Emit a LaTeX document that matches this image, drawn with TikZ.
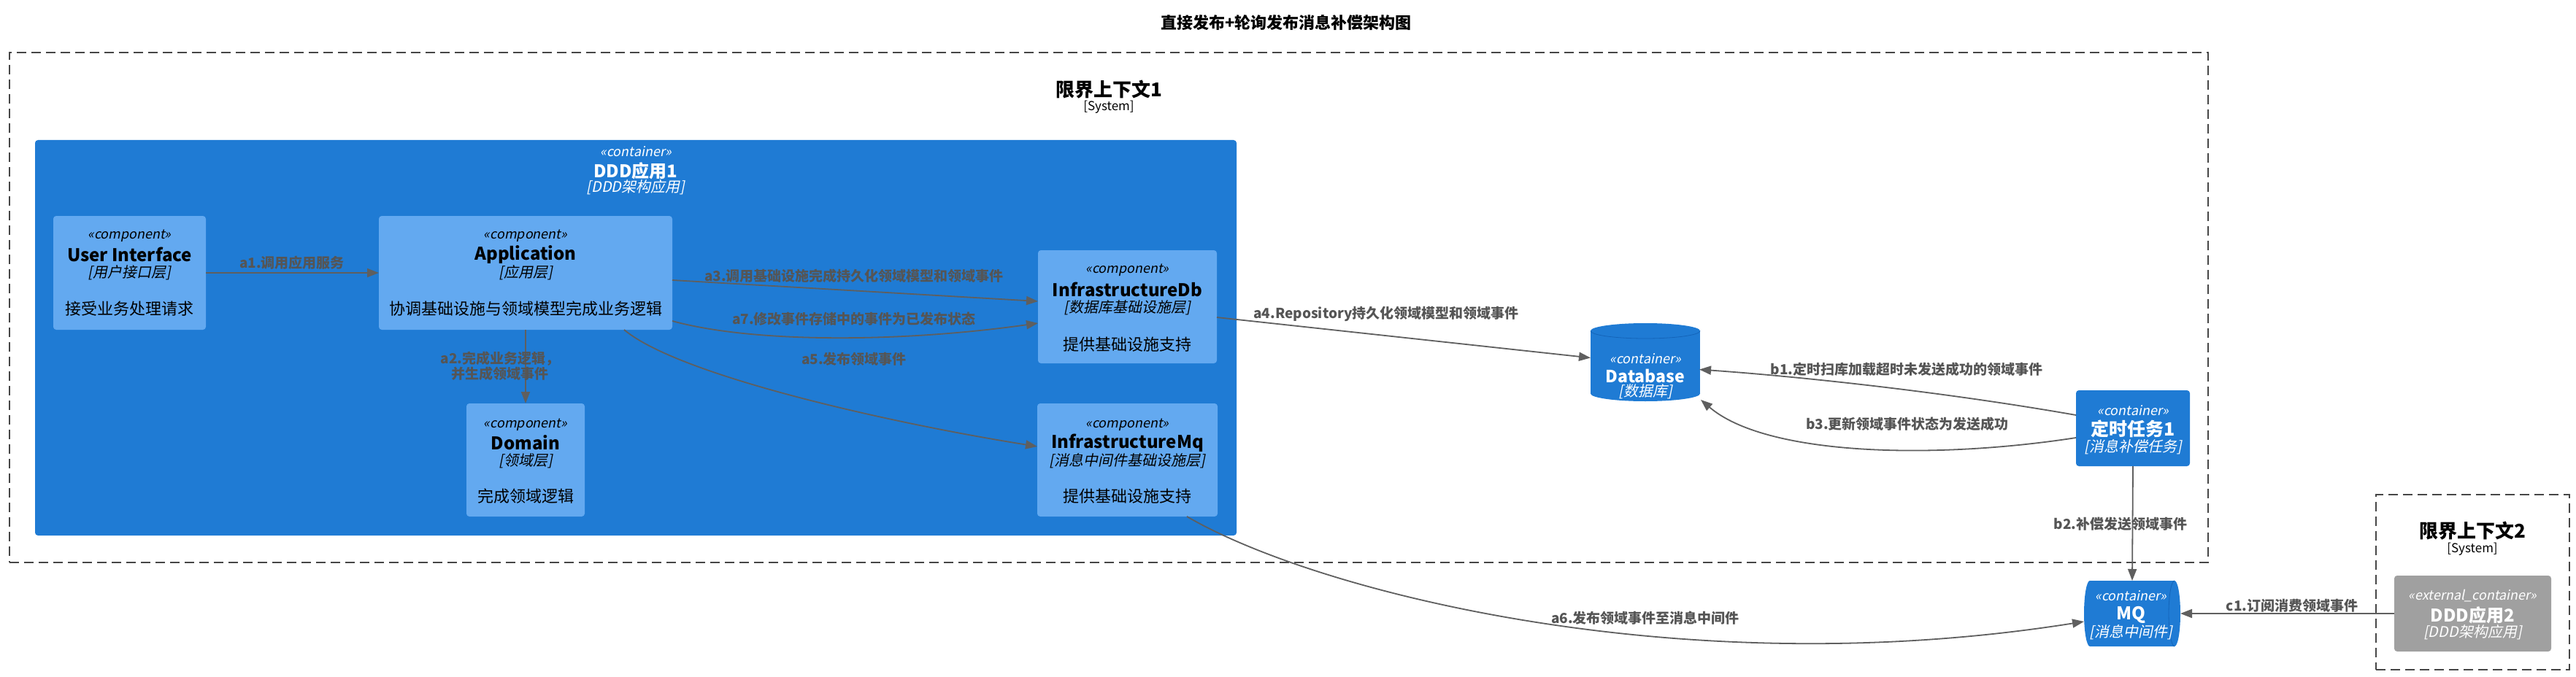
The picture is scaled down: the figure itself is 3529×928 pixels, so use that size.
\documentclass[tikz,border=0pt]{standalone}
\usepackage{fontspec}
\setmainfont{Noto Sans CJK SC}
\newfontfamily\slcjk{Noto Sans CJK SC}[FakeSlant=0.2]
\usetikzlibrary{arrows.meta,calc}
\definecolor{cblue}{RGB}{31,123,212}
\definecolor{compblue}{RGB}{99,169,240}
\definecolor{extgray}{RGB}{160,160,160}
\definecolor{lineg}{RGB}{95,95,95}
\definecolor{labelg}{RGB}{85,85,85}
\definecolor{dashg}{RGB}{70,70,70}
\definecolor{dbedge}{RGB}{20,100,185}
\newcommand\fsz[1]{\fontsize{#1}{#1}\selectfont}
\begin{document}
\begin{tikzpicture}[x=1pt,y=-1pt,
  every node/.style={inner sep=0pt,outer sep=0pt},
  bnd/.style={draw=dashg,line width=2pt,dash pattern=on 13pt off 7pt},
  ctrbox/.style={fill=cblue,rounded corners=4pt},
  compbox/.style={fill=compblue,rounded corners=4pt},
  extbox/.style={fill=extgray,rounded corners=4pt},
  stt/.style={font=\slcjk\fsz{18}},
  ttl/.style={font=\bfseries\fsz{24}},
  tch/.style={font=\slcjk\fsz{20}},
  dsc/.style={font=\fsz{22}},
  wt/.style={text=white},
  lbl/.style={font=\bfseries\fsz{19},text=labelg,align=center},
  arr/.style={draw=lineg,line width=1.8pt,-{Triangle[length=16pt,width=12pt]}}
]
\useasboundingbox (0,0) rectangle (3529,928);
\fill[white] (0,0) rectangle (3529,928);

% title
\node[font=\bfseries\fsz{22}] (title) at (1762,31) {直接发布+轮询发布消息补偿架构图};

% boundary 1
\node[bnd,minimum width=3012pt,minimum height=699pt] (bc1) at (1519,421.5) {};
\node[font=\bfseries\fsz{26}] (bc1t) at (1519,123) {限界上下文1};
\node[font=\fsz{17}] (bc1s) at (1519,147) {[System]};

% boundary 2
\node[bnd,minimum width=265pt,minimum height=240pt] (bc2) at (3387.5,798) {};
\node[font=\bfseries\fsz{26}] (bc2t) at (3387,728) {限界上下文2};
\node[font=\fsz{17}] (bc2s) at (3387,753) {[System]};

% container DDD应用1
\node[ctrbox,minimum width=1646pt,minimum height=542pt] (app1) at (871,463) {};
\node[stt,wt] (app1a) at (871,208) {«container»};
\node[ttl,wt] (app1b) at (871,234) {DDD应用1};
\node[tch,wt] (app1c) at (871,257) {[DDD架构应用]};

% components
\node[compbox,minimum width=209pt,minimum height=156pt] (ui) at (177.5,374) {};
\node[stt] (uia) at (177.5,323) {«component»};
\node[ttl] (uib) at (177.5,349) {User Interface};
\node[tch] (uic) at (177.5,374) {[用户接口层]};
\node[dsc] (uid) at (177.5,423) {接受业务处理请求};

\node[compbox,minimum width=402pt,minimum height=156pt] (app) at (720,374) {};
\node[stt] (appa) at (720,323) {«component»};
\node[ttl] (appb) at (720,349) {Application};
\node[tch] (appc) at (720,374) {[应用层]};
\node[dsc] (appd) at (720,423) {协调基础设施与领域模型完成业务逻辑};

\node[compbox,minimum width=162pt,minimum height=155pt] (dom) at (720,630.5) {};
\node[stt] (doma) at (720,582) {«component»};
\node[ttl] (domb) at (720,607) {Domain};
\node[tch] (domc) at (720,632) {[领域层]};
\node[dsc] (domd) at (720,680) {完成领域逻辑};

\node[compbox,minimum width=245pt,minimum height=155pt] (idb) at (1544.5,420.5) {};
\node[stt] (idba) at (1544.5,370) {«component»};
\node[ttl] (idbb) at (1544.5,397) {InfrastructureDb};
\node[tch] (idbc) at (1544.5,422) {[数据库基础设施层]};
\node[dsc] (idbd) at (1544.5,472) {提供基础设施支持};

\node[compbox,minimum width=247pt,minimum height=155pt] (imq) at (1544.5,630.5) {};
\node[stt] (imqa) at (1544.5,582) {«component»};
\node[ttl] (imqb) at (1544.5,607) {InfrastructureMq};
\node[tch] (imqc) at (1544.5,632) {[消息中间件基础设施层]};
\node[dsc] (imqd) at (1544.5,680) {提供基础设施支持};

% database cylinder
\fill[cblue] (2179,453.5) rectangle (2329,539.5);
\fill[cblue] (2254,453.5) ellipse[x radius=75,y radius=10.5];
\fill[cblue] (2254,539.5) ellipse[x radius=75,y radius=10.5];
\draw[dbedge,line width=0.8pt] (2179,453.5) arc[start angle=180,end angle=0,x radius=75,y radius=10.5];
\node[minimum width=150pt,minimum height=107pt] (db) at (2254,496.5) {};
\node[stt,wt] (dba) at (2254,492) {«container»};
\node[ttl,wt,font=\bfseries\fsz{23}] (dbb) at (2254,515) {Database};
\node[tch,wt] (dbc) at (2254,537) {[数据库]};

% 定时任务1
\node[ctrbox,minimum width=156pt,minimum height=104pt] (job) at (2922,587) {};
\node[stt,wt] (joba) at (2922,563) {«container»};
\node[wt,font=\bfseries\fsz{25}] (jobb) at (2922,588) {定时任务1};
\node[tch,wt] (jobc) at (2922,613) {[消息补偿任务]};

% MQ queue
\fill[cblue] (2863,796) -- (2979,796)
  arc[start angle=-90,end angle=90,x radius=8,y radius=45] -- (2863,886)
  arc[start angle=90,end angle=270,x radius=8,y radius=45] -- cycle;
\draw[dbedge,line width=0.8pt] (2979,796) arc[start angle=270,end angle=90,x radius=8,y radius=45];
\node[minimum width=132pt,minimum height=90pt] (mq) at (2921,841) {};
\node[stt,wt] (mqa) at (2919,817) {«container»};
\node[ttl,wt] (mqb) at (2919,843) {MQ};
\node[tch,wt] (mqc) at (2919,867) {[消息中间件]};

% DDD应用2
\node[extbox,minimum width=215pt,minimum height=104pt] (ext) at (3387.5,841) {};
\node[stt,wt] (exta) at (3387.5,817) {«external\_container»};
\node[ttl,wt] (extb) at (3387.5,843) {DDD应用2};
\node[tch,wt] (extc) at (3387.5,867) {[DDD架构应用]};

% connectors
\draw[arr] (ui.east) -- (app.west);
\node[lbl] (la1) at (400,360) {a1.调用应用服务};

\draw[arr] (app.south) -- (dom.north);
\node[lbl,font=\bfseries\fontsize{19}{21}\selectfont] (la2) at (685,502) {a2.完成业务逻辑，\\并生成领域事件};

\draw[arr] ($(app.north east)+(0,88)$) -- ($(idb.north west)+(0,70)$);
\node[lbl] (la3) at (1170,378) {a3.调用基础设施完成持久化领域模型和领域事件};

\draw[arr] ($(app.north east)+(0,144)$) .. controls (1030,470) and (1230,470) .. ($(idb.north west)+(0,100)$);
\node[lbl] (la7) at (1170,437) {a7.修改事件存储中的事件为已发布状态};

\draw[arr] ($(app.south east)+(-66,0)$) .. controls (930,515) and (1220,580) .. ($(imq.north west)+(0,59)$);
\node[lbl] (la5) at (1170,492) {a5.发布领域事件};

\draw[arr] ($(idb.north east)+(0,92)$) -- ($(db.west)+(0,-6)$);
\node[lbl] (la4) at (1899,430) {a4.Repository持久化领域模型和领域事件};

\draw[arr] ($(job.north west)+(0,34)$) .. controls (2650,535) and (2450,515) .. ($(db.east)+(-1,10)$);
\node[lbl] (lb1) at (2612,506) {b1.定时扫库加载超时未发送成功的领域事件};

\draw[arr] ($(job.north west)+(0,65)$) .. controls (2650,630) and (2420,625) .. ($(db.south east)+(1,-2)$);
\node[lbl] (lb3) at (2613,581) {b3.更新领域事件状态为发送成功};

\draw[arr] (job.south) -- (mq.north);
\node[lbl] (lb2) at (2905,718) {b2.补偿发送领域事件};

\draw[arr] ($(imq.south east)+(-42,0)$) .. controls (1800,810) and (2300,940) .. ($(mq.west)+(0,11)$);
\node[lbl] (la6) at (2254,847) {a6.发布领域事件至消息中间件};

\draw[arr] (ext.west) -- (mq.east);
\node[lbl] (lc1) at (3140,830) {c1.订阅消费领域事件};
\end{tikzpicture}
\end{document}
